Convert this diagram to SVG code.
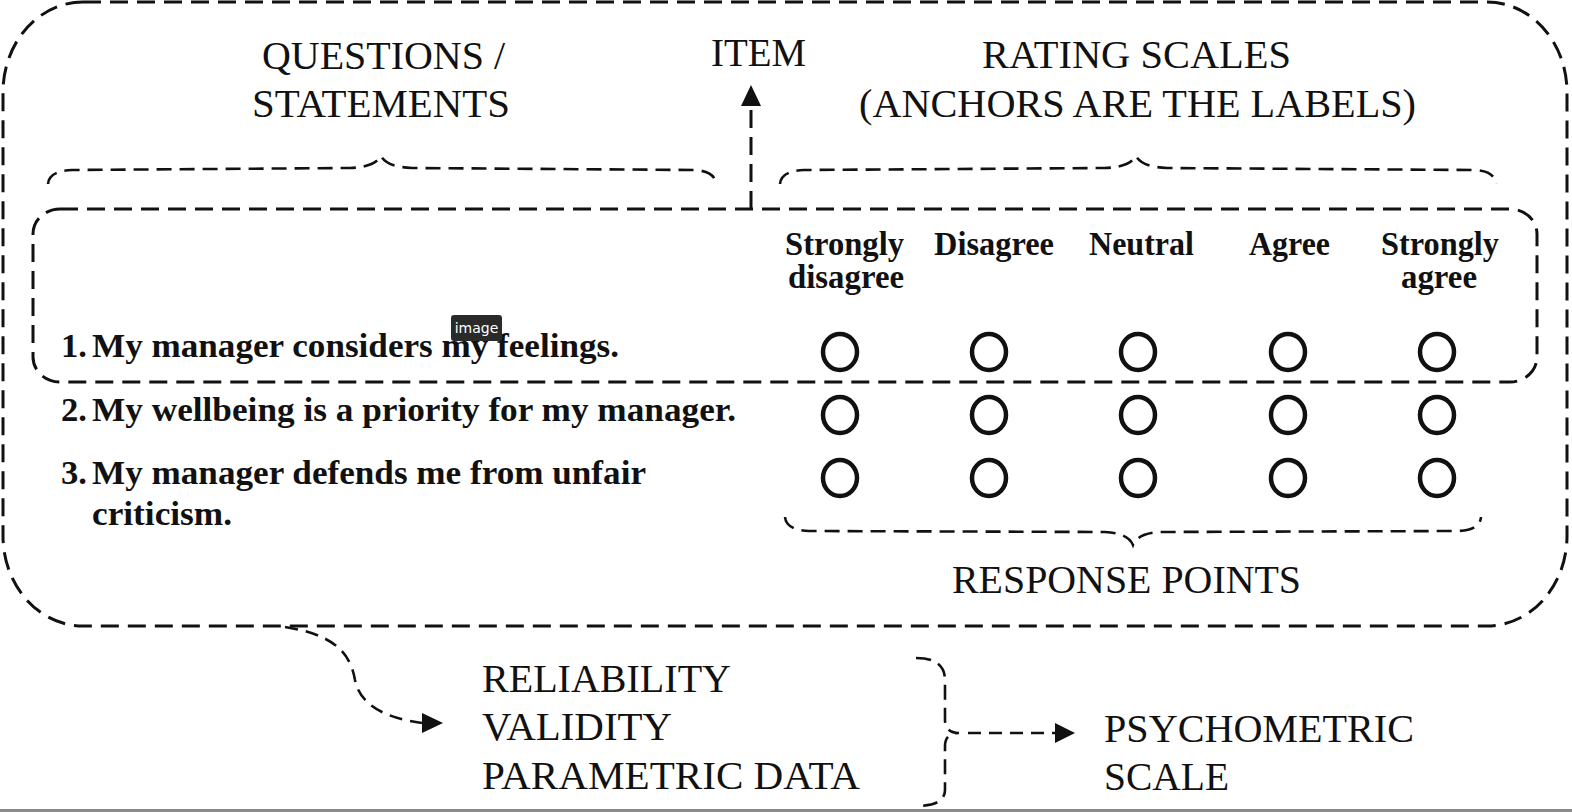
<svg xmlns="http://www.w3.org/2000/svg" width="1572" height="812" viewBox="0 0 1572 812">
<style>
.bg{fill:#ffffff}
.box{fill:none;stroke:#111;stroke-width:3;stroke-dasharray:18 9}
.br{fill:none;stroke:#111;stroke-width:2.6;stroke-dasharray:15 8;stroke-linecap:butt}
.cn{fill:none;stroke:#111;stroke-width:2.6;stroke-dasharray:13 8}
.ah{fill:#111;stroke:none}
.t{font-family:"Liberation Serif","Times New Roman",serif;font-size:41px;fill:#111}
.b{font-family:"Liberation Serif","Times New Roman",serif;font-size:33px;font-weight:bold;fill:#111}
.c{fill:none;stroke:#111;stroke-width:4.5}
.tip{fill:#2a2a2a}
.tipt{font-family:"DejaVu Sans","Noto Sans",sans-serif;font-size:14px;fill:#ffffff}
</style>
<rect class="bg" x="0" y="0" width="1572" height="812"/>
<g id="scale-frame">
<rect class="box" x="3" y="2" width="1564" height="624" rx="80" ry="90"/>
</g>
<g id="labels-top">
<text class="t" x="262" y="69" textLength="243" lengthAdjust="spacingAndGlyphs">QUESTIONS /</text>
<text class="t" x="252" y="117" textLength="258" lengthAdjust="spacingAndGlyphs">STATEMENTS</text>
<text class="t" x="711" y="66" textLength="95" lengthAdjust="spacingAndGlyphs">ITEM</text>
<text class="t" x="982" y="68" textLength="309" lengthAdjust="spacingAndGlyphs">RATING SCALES</text>
<text class="t" x="859" y="117" textLength="557" lengthAdjust="spacingAndGlyphs">(ANCHORS ARE THE LABELS)</text>
</g>
<g id="braces">
<path class="br" d="M48,184 Q49,171 72,170 L350,168 Q375,167 381,156 Q387,167 412,168 L694,170 Q715,171 716,184"/>
<path class="br" d="M780,184 Q781,171 804,170 L1105,168 Q1130,167 1136,156 Q1142,167 1167,168 L1474,170 Q1495,171 1496,184"/>
<path class="br" d="M785,517 Q786,530 809,531 L1105,532 Q1128,533 1133,545 Q1138,533 1161,532 L1458,531 Q1480,530 1481,517"/>
<path class="br" d="M916,658 Q945,658 945,680 V720 Q945,733 959,733 Q945,733 945,746 V790 Q945,806 916,806"/>
</g>
<g id="item">
<rect class="box" x="33" y="209" width="1504" height="173" rx="27" ry="25"/>
</g>
<g id="anchors">
<text class="b" x="785" y="255" textLength="119" lengthAdjust="spacingAndGlyphs">Strongly</text>
<text class="b" x="788" y="288" textLength="116" lengthAdjust="spacingAndGlyphs">disagree</text>
<text class="b" x="934" y="255" textLength="120" lengthAdjust="spacingAndGlyphs">Disagree</text>
<text class="b" x="1089" y="255" textLength="105" lengthAdjust="spacingAndGlyphs">Neutral</text>
<text class="b" x="1249" y="255" textLength="81" lengthAdjust="spacingAndGlyphs">Agree</text>
<text class="b" x="1381" y="255" textLength="118" lengthAdjust="spacingAndGlyphs">Strongly</text>
<text class="b" x="1401" y="288" textLength="76" lengthAdjust="spacingAndGlyphs">agree</text>
</g>
<g id="statements">
<text class="b" x="61" y="357" textLength="26" lengthAdjust="spacingAndGlyphs">1.</text>
<text class="b" x="92" y="357" textLength="527" lengthAdjust="spacingAndGlyphs">My manager considers my feelings.</text>
<text class="b" x="61" y="421" textLength="26" lengthAdjust="spacingAndGlyphs">2.</text>
<text class="b" x="92" y="421" textLength="644" lengthAdjust="spacingAndGlyphs">My wellbeing is a priority for my manager.</text>
<text class="b" x="61" y="484" textLength="26" lengthAdjust="spacingAndGlyphs">3.</text>
<text class="b" x="92" y="484" textLength="554" lengthAdjust="spacingAndGlyphs">My manager defends me from unfair</text>
<text class="b" x="92" y="525" textLength="140" lengthAdjust="spacingAndGlyphs">criticism.</text>
</g>
<g id="response-points">
<ellipse class="c" cx="840" cy="352" rx="17" ry="18"/>
<ellipse class="c" cx="989" cy="352" rx="17" ry="18"/>
<ellipse class="c" cx="1138" cy="352" rx="17" ry="18"/>
<ellipse class="c" cx="1288" cy="352" rx="17" ry="18"/>
<ellipse class="c" cx="1437" cy="352" rx="17" ry="18"/>
<ellipse class="c" cx="840" cy="415" rx="17" ry="18"/>
<ellipse class="c" cx="989" cy="415" rx="17" ry="18"/>
<ellipse class="c" cx="1138" cy="415" rx="17" ry="18"/>
<ellipse class="c" cx="1288" cy="415" rx="17" ry="18"/>
<ellipse class="c" cx="1437" cy="415" rx="17" ry="18"/>
<ellipse class="c" cx="840" cy="478" rx="17" ry="18"/>
<ellipse class="c" cx="989" cy="478" rx="17" ry="18"/>
<ellipse class="c" cx="1138" cy="478" rx="17" ry="18"/>
<ellipse class="c" cx="1288" cy="478" rx="17" ry="18"/>
<ellipse class="c" cx="1437" cy="478" rx="17" ry="18"/>
<text class="t" x="952" y="593" textLength="349" lengthAdjust="spacingAndGlyphs">RESPONSE POINTS</text>
</g>
<g id="properties">
<text class="t" x="482" y="692" textLength="249" lengthAdjust="spacingAndGlyphs">RELIABILITY</text>
<text class="t" x="482" y="740" textLength="190" lengthAdjust="spacingAndGlyphs">VALIDITY</text>
<text class="t" x="482" y="789" textLength="378" lengthAdjust="spacingAndGlyphs">PARAMETRIC DATA</text>
</g>
<g id="psychometric-scale">
<text class="t" x="1104" y="742" textLength="310" lengthAdjust="spacingAndGlyphs">PSYCHOMETRIC</text>
<text class="t" x="1104" y="790" textLength="125" lengthAdjust="spacingAndGlyphs">SCALE</text>
</g>
<g id="connectors">
<line class="box" x1="751" y1="209" x2="751" y2="104"/>
<polygon class="ah" points="751,85 741,106 761,106"/>
<path class="cn" d="M285,627 C330,634 350,650 355,680 C360,705 385,718 422,723"/>
<polygon class="ah" points="443,723 422,713 422,733"/>
<line class="cn" x1="968" y1="733" x2="1056" y2="733" stroke-dasharray="18 9"/>
<polygon class="ah" points="1075,733 1055,723 1055,743"/>
</g>
<g id="tooltip">
<rect class="tip" x="451" y="315" width="51" height="26" rx="3" ry="3"/>
<text class="tipt" x="476.5" y="333" text-anchor="middle">image</text>
</g>
<rect x="0" y="809" width="1572" height="3" fill="#8a8a8a"/>
</svg>
